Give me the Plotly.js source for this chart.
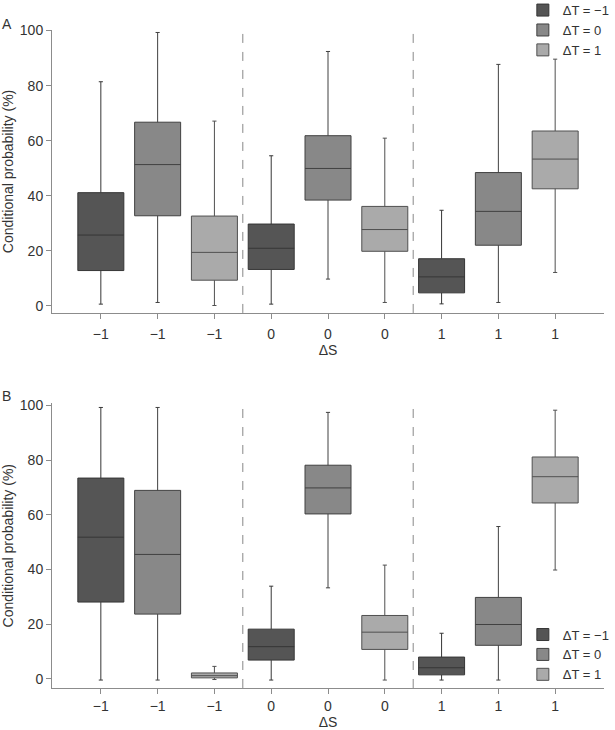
<!DOCTYPE html>
<html>
<head>
<meta charset="utf-8">
<script src="https://cdn.plot.ly/plotly-3.0.1.min.js"></script>
<style>html,body{margin:0;padding:0;background:#fff;}#chart{width:615px;height:730px;}</style>
</head>
<body>
<div id="chart"></div>
<script>
// Tick labels (ΔS) for the nine box positions
const categories = ['\u22121','\u22121','\u22121','0','0','0','1','1','1'];
const seriesNames = ['\u0394T = \u22121','\u0394T = 0','\u0394T = 1'];
const seriesColors = ['#555555','#888888','#aaaaaa'];
const seriesLines = ['#363636','#404040','#505050'];

// Panel A: values per ΔT series, for ΔS = -1, 0, 1
const A_m1_low = [0.6, 0.6, 0.7],  A_m1_q1 = [12.8, 13.2, 4.7],  A_m1_med = [25.7, 20.9, 10.5], A_m1_q3 = [41.1, 29.7, 17.1], A_m1_up = [81.4, 54.5, 34.7];
const A_0_low  = [1.2, 9.7, 1.2],  A_0_q1  = [32.7, 38.4, 22.0], A_0_med  = [51.3, 49.9, 34.3], A_0_q3  = [66.7, 61.8, 48.4], A_0_up  = [99.3, 92.4, 87.7];
const A_p1_low = [0.1, 1.2, 12.1], A_p1_q1 = [9.3, 19.8, 42.5],  A_p1_med = [19.4, 27.7, 53.3], A_p1_q3 = [32.6, 36.1, 63.5], A_p1_up = [67.1, 60.9, 89.6];

// Panel B
const B_m1_low = [-0.4, -0.4, -0.4], B_m1_q1 = [28.1, 6.9, 1.5],  B_m1_med = [51.8, 11.8, 4.1], B_m1_q3 = [73.4, 18.2, 8.0],  B_m1_up = [99.2, 33.9, 16.7];
const B_0_low  = [-0.4, 33.3, -0.4], B_0_q1  = [23.7, 60.3, 12.3], B_0_med  = [45.5, 69.8, 19.9], B_0_q3  = [68.9, 78.1, 29.8], B_0_up  = [99.2, 97.4, 55.7];
const B_p1_low = [-0.2, -0.4, 39.8], B_p1_q1 = [0.4, 10.8, 64.3],  B_p1_med = [1.2, 17.1, 73.9],  B_p1_q3 = [2.2, 23.2, 81.1],  B_p1_up = [4.6, 41.6, 98.2];

const panelA = [
  [A_m1_low, A_m1_q1, A_m1_med, A_m1_q3, A_m1_up],
  [A_0_low, A_0_q1, A_0_med, A_0_q3, A_0_up],
  [A_p1_low, A_p1_q1, A_p1_med, A_p1_q3, A_p1_up]
];
const panelB = [
  [B_m1_low, B_m1_q1, B_m1_med, B_m1_q3, B_m1_up],
  [B_0_low, B_0_q1, B_0_med, B_0_q3, B_0_up],
  [B_p1_low, B_p1_q1, B_p1_med, B_p1_q3, B_p1_up]
];

const nSeries = seriesNames.length;
const nGroups = categories.length / nSeries;
const positions = categories.map((c, i) => i);

function makeTraces(panel, xa, ya, legendId) {
  return panel.map((d, s) => ({
    type: 'box',
    name: seriesNames[s],
    x: Array.from({length: nGroups}, (_, g) => positions[g * nSeries + s]),
    lowerfence: d[0], q1: d[1], median: d[2], q3: d[3], upperfence: d[4],
    xaxis: xa, yaxis: ya,
    legend: legendId,
    fillcolor: seriesColors[s],
    line: {color: seriesLines[s], width: 1},
    width: 0.81,
    whiskerwidth: 0.09,
    boxpoints: false,
    hoverinfo: 'skip'
  }));
}

const traces = makeTraces(panelA, 'x', 'y', 'legend').concat(makeTraces(panelB, 'x2', 'y2', 'legend2'));

const font = 'Liberation Sans, Arial, Helvetica, sans-serif';
const xRange = [-0.86, categories.length - 1 + 0.86];

function xaxis(anchor, standoff, labelGap) {
  return {
    anchor: anchor, range: xRange, tickmode: 'array', tickvals: positions, ticktext: categories,
    showline: true, linecolor: '#8c8c8c', linewidth: 1, ticks: 'outside', ticklen: 5, tickcolor: '#8c8c8c',
    ticklabelstandoff: labelGap,
    showgrid: false, zeroline: false, tickfont: {family: font, size: 14, color: '#333'},
    title: {text: '\u0394S', font: {family: font, size: 14, color: '#333'}, standoff: standoff},
    automargin: false
  };
}
function yaxis(domain, range) {
  return {
    domain: domain, range: range, tickvals: [0, 20, 40, 60, 80, 100],
    showline: true, linecolor: '#8c8c8c', linewidth: 1, ticks: 'outside', ticklen: 5, tickcolor: '#8c8c8c',
    showgrid: false, zeroline: false, tickfont: {family: font, size: 14, color: '#333'},
    title: {text: 'Conditional probability (%)', font: {family: font, size: 14, color: '#333'}, standoff: 5},
    automargin: false
  };
}

// group separators between ΔS groups
const shapes = [];
for (let g = 1; g < nGroups; g++) {
  const xs = (positions[g * nSeries - 1] + positions[g * nSeries]) / 2;
  shapes.push({type: 'line', xref: 'x', yref: 'y', x0: xs, x1: xs, y0: -2.6, y1: 100.2, line: {color: '#888', width: 1, dash: 'dash'}});
  shapes.push({type: 'line', xref: 'x2', yref: 'y2', x0: xs, x1: xs, y0: -3.3, y1: 100.7, line: {color: '#888', width: 1, dash: 'dash'}});
}

const legendBase = {font: {family: font, size: 13, color: '#333'}, bgcolor: 'rgba(0,0,0,0)', itemwidth: 30, tracegroupgap: 0, xanchor: 'left', yanchor: 'top'};

const layout = {
  width: 615, height: 730,
  margin: {l: 52, r: 11, t: 29.5, b: 41.7, autoexpand: false},
  paper_bgcolor: '#fff', plot_bgcolor: '#fff',
  boxmode: 'overlay',
  showlegend: true,
  xaxis: xaxis('y', 4, 3),
  yaxis: yaxis([0.570, 1], [-2.6, 100.2]),
  xaxis2: xaxis('y2', 11, 0),
  yaxis2: yaxis([0, 0.4326], [-3.3, 100.7]),
  legend: Object.assign({x: 0.853, y: 1.053}, legendBase),
  legend2: Object.assign({x: 0.853, y: 0.104}, legendBase),
  shapes: shapes,
  annotations: [
    {text: 'A', xref: 'paper', yref: 'paper', x: -0.094, y: 1.0084, xanchor: 'left', yanchor: 'middle', showarrow: false, font: {family: font, size: 14, color: '#333'}},
    {text: 'B', xref: 'paper', yref: 'paper', x: -0.094, y: 0.4436, xanchor: 'left', yanchor: 'middle', showarrow: false, font: {family: font, size: 14, color: '#333'}}
  ]
};

Plotly.newPlot('chart', traces, layout, {displayModeBar: false, staticPlot: true});
</script>
</body>
</html>
